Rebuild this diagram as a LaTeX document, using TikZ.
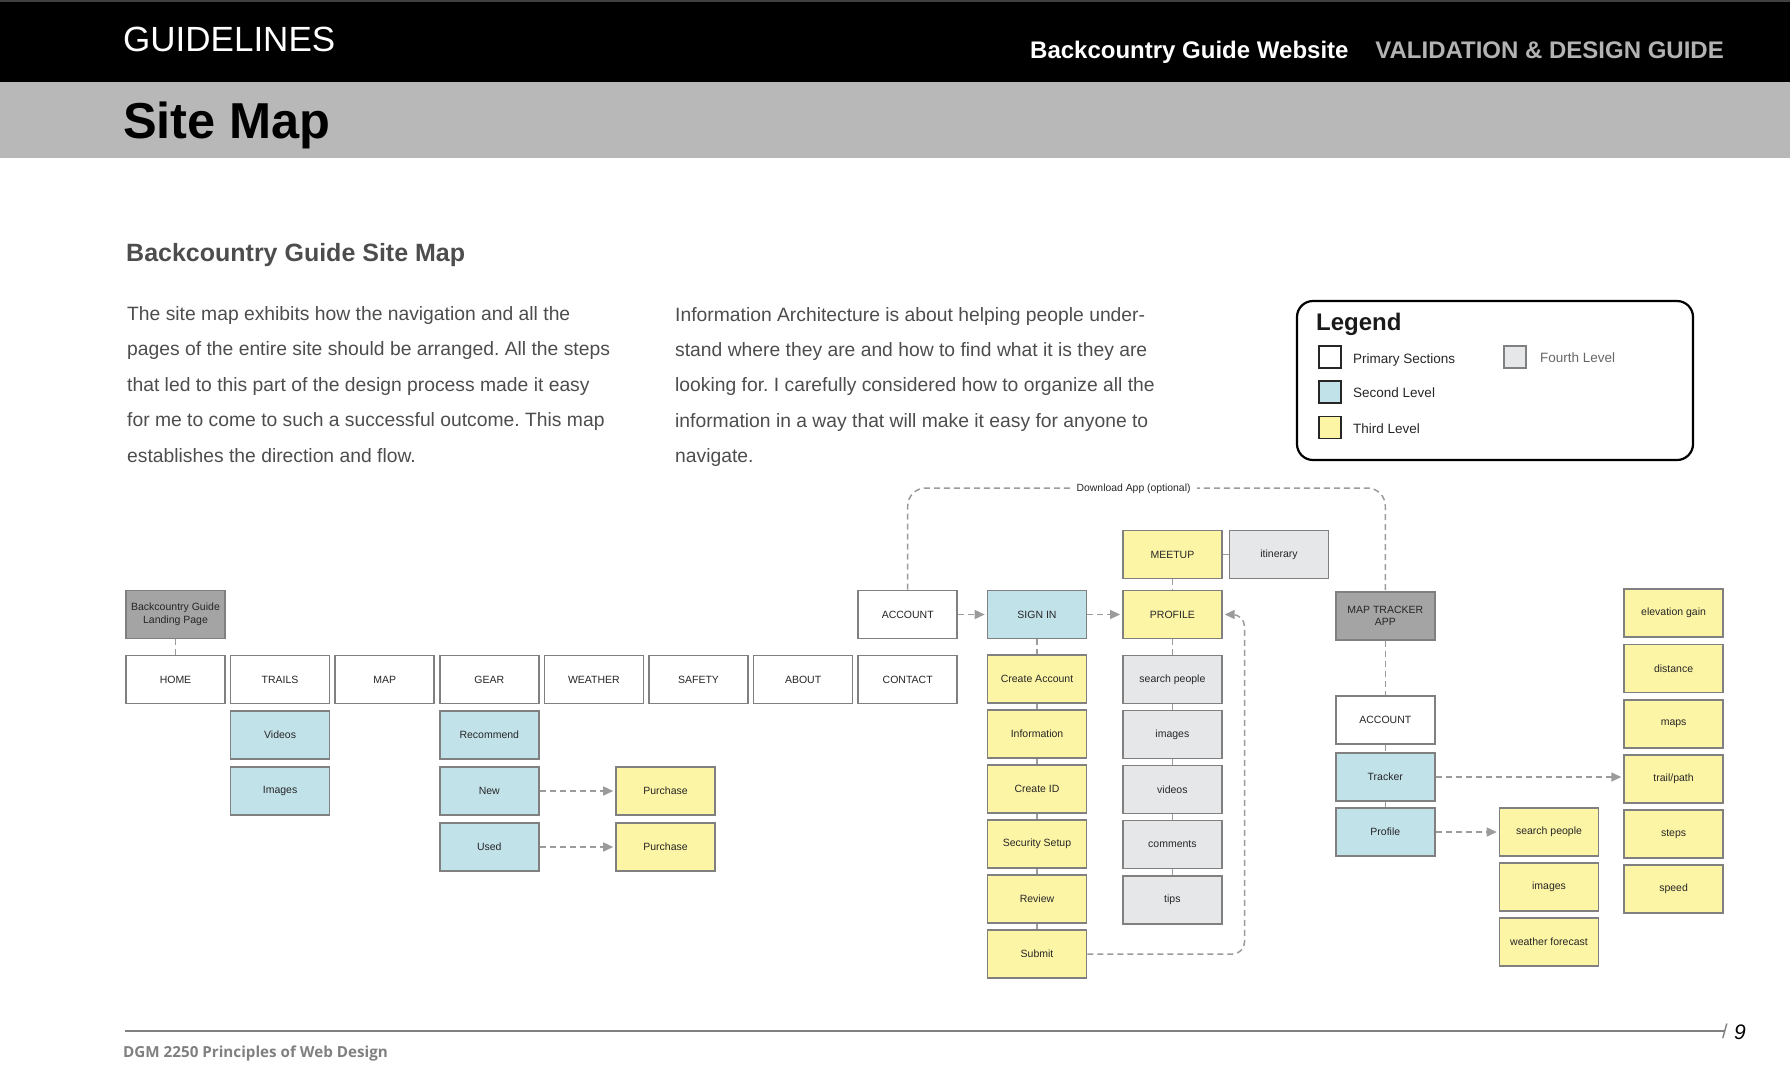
\documentclass[tikz,border=0pt]{standalone}
\usepackage{fontspec}
\setmainfont{Liberation Sans}
\newfontfamily\footfont{Open Sans}
\usetikzlibrary{arrows.meta}
\frenchspacing
\definecolor{lvtwo}{HTML}{C2E2EA}
\definecolor{lvthree}{HTML}{FDF5A6}
\definecolor{lvfour}{HTML}{E6E7E8}
\definecolor{lvroot}{HTML}{A4A4A4}
\definecolor{boxline}{HTML}{808080}
\definecolor{conn}{HTML}{9B9B9B}
\definecolor{bodytext}{HTML}{4D4D4D}
\definecolor{band}{HTML}{B8B8B8}
\definecolor{hdrgray}{HTML}{B3B3B3}
\definecolor{foottext}{HTML}{808080}
\begin{document}
\frenchspacing
\begin{tikzpicture}[x=1pt,y=-1pt,
  box/.style={draw=boxline, line width=1.6pt, minimum width=99pt, minimum height=48pt,
    inner sep=0pt, align=center, font=\fontsize{10.5}{12.5}\selectfont, text=black!85},
  prim/.style={box, fill=white},
  second/.style={box, fill=lvtwo},
  third/.style={box, fill=lvthree},
  fourth/.style={box, fill=lvfour},
  rootbox/.style={box, fill=lvroot},
  link/.style={draw=conn, line width=1.5pt, dash pattern=on 6pt off 4pt},
  arr/.style={link, -{Triangle[length=10pt,width=9pt]}, shorten >=2pt},
  para/.style={anchor=base west, inner sep=0pt, text=bodytext, font=\fontsize{19.3}{19.3}\selectfont},
  legsq/.style={draw=black!85, line width=1.8pt, minimum width=22pt, minimum height=22pt, inner sep=0pt},
  legtxt/.style={anchor=base west, inner sep=0pt, text=black!85, font=\fontsize{13.5}{14}\selectfont}
]
\useasboundingbox (0,0) rectangle (1790,1088);
% header
\fill[black] (0,0) rectangle (1790,82);
\fill[black!75] (0,0) rectangle (1790,2);
\fill[band] (0,82) rectangle (1790,158);
\node[anchor=base west, inner sep=0pt, text=white, font=\fontsize{35}{35}\selectfont] (guid) at (123,51) {GUIDELINES};
\node[anchor=base west, inner sep=0pt, text=white, font=\bfseries\fontsize{24}{24}\selectfont] (site) at (1030,58) {Backcountry Guide Website};
\node[anchor=base east, inner sep=0pt, text=hdrgray, font=\bfseries\fontsize{24}{24}\selectfont] (valid) at (1724,58) {VALIDATION \& DESIGN GUIDE};
\node[anchor=base west, inner sep=0pt, text=black, font=\bfseries\fontsize{50.5}{50.5}\selectfont] (title) at (123,138) {Site Map};
% subtitle & paragraphs
\node[anchor=base west, inner sep=0pt, text=bodytext, font=\bfseries\fontsize{25}{25}\selectfont] (sub) at (126,261) {Backcountry Guide Site Map};
\node[para] (p1a) at (127,320) {The site map exhibits how the navigation and all the};
\node[para] (p1b) at (127,355.5) {pages of the entire site should be arranged. All the steps};
\node[para] (p1c) at (127,391) {that led to this part of the design process made it easy};
\node[para] (p1d) at (127,426.5) {for me to come to such a successful outcome. This map};
\node[para] (p1e) at (127,462) {establishes the direction and flow.};
\node[para] (p2a) at (675,321) {Information Architecture is about helping people under-};
\node[para] (p2b) at (675,356) {stand where they are and how to find what it is they are};
\node[para] (p2c) at (675,391.5) {looking for. I carefully considered how to organize all the};
\node[para] (p2d) at (675,427) {information in a way that will make it easy for anyone to};
\node[para] (p2e) at (675,462.5) {navigate.};
% legend
\draw[black, line width=2.2pt, rounded corners=16pt] (1297,301) rectangle (1693,460);
\node[anchor=base west, inner sep=0pt, font=\bfseries\fontsize{24}{24}\selectfont, text=black!90] (legend) at (1316,330) {Legend};
\node[legsq, fill=white] (lg1) at (1330,357) {};
\node[legsq, fill=lvtwo] (lg2) at (1330,392) {};
\node[legsq, fill=lvthree] (lg3) at (1330,427.5) {};
\node[legsq, fill=lvfour, draw=boxline] (lg4) at (1515,357) {};
\node[legtxt] (lt1) at (1353,363.5) {Primary Sections};
\node[legtxt] (lt2) at (1353,397.5) {Second Level};
\node[legtxt] (lt3) at (1353,433) {Third Level};
\node[legtxt, text=black!60] (lt4) at (1540,362) {Fourth Level};
% primary row
\node[rootbox] (landing) at (175.5,614.5) {Backcountry Guide\\Landing Page};
\node[prim] (home) at (175.5,679.5) {HOME};
\node[prim] (trails) at (280.1,679.5) {TRAILS};
\node[prim] (map) at (384.7,679.5) {MAP};
\node[prim] (gear) at (489.3,679.5) {GEAR};
\node[prim] (weather) at (593.9,679.5) {WEATHER};
\node[prim] (safety) at (698.5,679.5) {SAFETY};
\node[prim] (about) at (803.1,679.5) {ABOUT};
\node[prim] (contact) at (907.7,679.5) {CONTACT};
\node[second] (videos) at (280.1,735) {Videos};
\node[second] (images) at (280.1,791) {Images};
\node[second] (recommend) at (489.3,735) {Recommend};
\node[second] (new) at (489.3,791) {New};
\node[second] (used) at (489.3,847) {Used};
\node[third] (purch1) at (665.5,791) {Purchase};
\node[third] (purch2) at (665.5,847) {Purchase};
% account / sign in
\node[prim] (account) at (907.7,614.5) {ACCOUNT};
\node[second] (signin) at (1037,614.5) {SIGN IN};
\node[third] (create) at (1037,679) {Create Account};
\node[third] (info) at (1037,734) {Information};
\node[third] (createid) at (1037,789) {Create ID};
\node[third] (security) at (1037,844) {Security Setup};
\node[third] (review) at (1037,899) {Review};
\node[third] (submit) at (1037,954) {Submit};
% profile column
\node[third] (meetup) at (1172.4,554.5) {MEETUP};
\node[fourth] (itin) at (1279,554.5) {itinerary};
\node[third] (profile) at (1172.4,614.5) {PROFILE};
\node[fourth] (search) at (1172.4,679.5) {search people};
\node[fourth] (pimages) at (1172.4,734.5) {images};
\node[fourth] (pvideos) at (1172.4,789.5) {videos};
\node[fourth] (comments) at (1172.4,844.5) {comments};
\node[fourth] (tips) at (1172.4,900) {tips};
% map tracker app
\node[rootbox] (maptr) at (1385.3,616) {MAP TRACKER\\APP};
\node[prim] (account2) at (1385.3,720) {ACCOUNT};
\node[second] (tracker) at (1385.3,777) {Tracker};
\node[second] (aprofile) at (1385.3,832) {Profile};
\node[third] (asearch) at (1549,832) {search people};
\node[third] (aimages) at (1549,887) {images};
\node[third] (aweather) at (1549,942) {weather forecast};
\node[third] (elev) at (1673.6,613) {elevation gain};
\node[third] (dist) at (1673.6,668.5) {distance};
\node[third] (maps) at (1673.6,724) {maps};
\node[third] (trail) at (1673.6,779) {trail/path};
\node[third] (steps) at (1673.6,834) {steps};
\node[third] (speed) at (1673.6,889) {speed};
% connectors
\draw[link] (landing.south) -- (home.north);
\draw[arr] (new.east) -- (purch1.west);
\draw[arr] (used.east) -- (purch2.west);
\draw[arr] (account.east) -- (signin.west);
\draw[arr] (signin.east) -- (profile.west);
\draw[link] (signin.south) -- (create.north);
\draw[link] (create.south) -- (info.north);
\draw[link] (info.south) -- (createid.north);
\draw[link] (createid.south) -- (security.north);
\draw[link] (security.south) -- (review.north);
\draw[link] (review.south) -- (submit.north);
\draw[link] (meetup.east) -- (itin.west);
\draw[link] (meetup.south) -- (profile.north);
\draw[link] (profile.south) -- (search.north);
\draw[link] (search.south) -- (pimages.north);
\draw[link] (pimages.south) -- (pvideos.north);
\draw[link] (pvideos.south) -- (comments.north);
\draw[link] (comments.south) -- (tips.north);
\draw[arr, rounded corners=12pt] (submit.east) -- (1244.5,954) -- (1244.5,614.5) -- (profile.east);
\draw[link, rounded corners=18pt] (account.north) -- (907.7,488) -- (1385.3,488) -- (maptr.north);
\node[fill=white, inner xsep=6pt, inner ysep=2pt, font=\fontsize{10.4}{12}\selectfont, text=black!85] (dl) at (1133.6,488.5) {Download App (optional)};
\draw[link] (maptr.south) -- (account2.north);
\draw[link] (account2.south) -- (tracker.north);
\draw[link] (tracker.south) -- (aprofile.north);
\draw[arr] (tracker.east) -- (trail.west |- tracker.east);
\draw[arr] (aprofile.east) -- (asearch.west);
% footer
\draw[foottext, line width=2.5pt] (125,1031) -- (1725,1031);
\node[anchor=west, inner sep=0pt, text=foottext, font=\fontsize{20}{20}\selectfont] (slash) at (1722,1031) {/};
\node[anchor=west, inner sep=0pt, text=black, font=\itshape\fontsize{21}{21}\selectfont] (pnum) at (1734,1032) {9};
\node[anchor=base west, inner sep=0pt, text=foottext, font=\footfont\bfseries\fontsize{15.2}{16}\selectfont] (foot) at (123,1057) {DGM 2250 Principles of Web Design};
\end{tikzpicture}
\end{document}
